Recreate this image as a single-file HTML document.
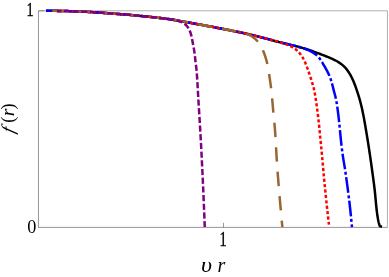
<!DOCTYPE html>
<html><head><meta charset="utf-8"><title>f(r) plot</title>
<style>
html,body{margin:0;padding:0;background:#fff;}
svg{display:block;will-change:transform;}
text{font-family:"Liberation Serif",serif;fill:#000;}
</style></head><body>
<svg width="389" height="277" viewBox="0 0 389 277">
<rect width="389" height="277" fill="#fff"/>
<!-- frame -->
<g fill="none">
<path d="M38.45,10.8 H387.45 V227.4" stroke="#a6a6a6" stroke-width="0.9"/>
<path d="M38.45,10.8 V227.4 H387.45" stroke="#727272" stroke-width="0.75"/>
<path d="M38.45,10.8 H44.5 M223.45,227.4 V222.8" stroke="#727272" stroke-width="0.75"/>
</g>
<g fill="none" stroke-width="2.5" stroke-linejoin="round">
<path d="M46.00,10.70 L47.57,10.72 L49.15,10.73 L50.72,10.75 L52.30,10.78 L53.87,10.80 L55.44,10.83 L57.02,10.86 L58.59,10.89 L60.17,10.92 L61.74,10.96 L63.31,10.99 L64.89,11.03 L66.46,11.07 L68.04,11.12 L69.61,11.16 L71.18,11.21 L72.76,11.27 L74.33,11.32 L75.90,11.38 L77.48,11.45 L79.05,11.51 L80.62,11.58 L82.19,11.65 L83.77,11.72 L85.34,11.80 L86.91,11.87 L88.48,11.95 L90.06,12.03 L91.63,12.12 L93.20,12.20 L94.77,12.29 L96.34,12.39 L97.91,12.49 L99.48,12.60 L101.05,12.71 L102.62,12.82 L104.19,12.93 L105.76,13.05 L107.33,13.17 L108.90,13.29 L110.47,13.41 L112.04,13.53 L113.61,13.64 L115.18,13.76 L116.75,13.88 L118.32,14.00 L119.89,14.11 L121.46,14.23 L123.03,14.35 L124.60,14.47 L126.17,14.59 L127.74,14.72 L129.31,14.85 L130.88,14.99 L132.45,15.13 L134.01,15.29 L135.58,15.44 L137.14,15.60 L138.71,15.77 L140.28,15.93 L141.84,16.09 L143.41,16.24 L144.98,16.40 L146.54,16.56 L148.11,16.72 L149.67,16.88 L151.24,17.04 L152.81,17.21 L154.37,17.37 L155.94,17.54 L157.50,17.72 L159.06,17.90 L160.63,18.08 L162.19,18.27 L163.75,18.46 L165.31,18.66 L166.88,18.87 L168.43,19.09 L169.99,19.32 L171.55,19.55 L173.10,19.81 L174.66,20.07 L176.21,20.33 L177.76,20.60 L179.31,20.88 L180.86,21.15 L182.41,21.42 L183.96,21.70 L185.51,21.97 L187.06,22.25 L188.61,22.53 L190.16,22.81 L191.71,23.09 L193.26,23.37 L194.80,23.65 L196.35,23.93 L197.90,24.22 L199.45,24.50 L201.00,24.78 L202.55,25.07 L204.09,25.36 L205.64,25.64 L207.19,25.93 L208.74,26.22 L210.28,26.51 L211.83,26.80 L213.38,27.09 L214.93,27.39 L216.47,27.68 L218.02,27.97 L219.56,28.27 L221.11,28.57 L222.66,28.86 L224.20,29.16 L225.75,29.46 L227.29,29.77 L228.84,30.07 L230.38,30.38 L231.93,30.68 L233.47,30.99 L235.01,31.30 L236.56,31.61 L238.10,31.93 L239.64,32.24 L241.18,32.57 L242.72,32.89 L244.26,33.23 L245.80,33.56 L247.33,33.91 L248.87,34.27 L250.40,34.63 L251.93,34.99 L253.46,35.37 L254.99,35.74 L256.52,36.12 L258.04,36.51 L259.57,36.90 L261.09,37.29 L262.62,37.68 L264.14,38.08 L265.66,38.49 L267.18,38.89 L268.70,39.30 L270.22,39.72 L271.74,40.13 L273.26,40.53 L274.78,40.94 L276.30,41.34 L277.83,41.74 L279.35,42.13 L280.88,42.51 L282.41,42.88 L283.94,43.25 L285.47,43.62 L287.00,43.98 L288.53,44.35 L290.06,44.72 L291.59,45.09 L293.12,45.47 L294.65,45.85 L296.18,46.24 L297.70,46.63 L299.22,47.03 L300.74,47.45 L302.25,47.88 L303.76,48.33 L305.27,48.80 L306.76,49.28 L308.26,49.77 L309.75,50.27 L311.24,50.78 L312.73,51.29 L314.22,51.81 L315.70,52.35 L317.18,52.89 L318.65,53.43 L320.13,53.99 L321.60,54.55 L323.07,55.12 L324.53,55.69 L326.00,56.27 L327.46,56.86 L328.91,57.46 L330.36,58.07 L331.80,58.70 L333.24,59.35 L334.66,60.03 L336.06,60.75 L337.43,61.52 L338.78,62.34 L340.09,63.21 L341.36,64.13 L342.59,65.11 L343.77,66.16 L344.89,67.27 L345.94,68.44 L346.93,69.66 L347.86,70.93 L348.74,72.23 L349.58,73.57 L350.37,74.93 L351.12,76.31 L351.83,77.72 L352.51,79.14 L353.15,80.57 L353.77,82.02 L354.36,83.48 L354.92,84.95 L355.46,86.43 L355.99,87.92 L356.50,89.40 L357.00,90.90 L357.50,92.39 L357.99,93.89 L358.46,95.39 L358.92,96.89 L359.37,98.40 L359.80,99.92 L360.21,101.44 L360.61,102.96 L361.00,104.48 L361.38,106.01 L361.74,107.54 L362.09,109.08 L362.42,110.62 L362.75,112.16 L363.07,113.70 L363.38,115.24 L363.68,116.79 L363.97,118.34 L364.25,119.88 L364.53,121.43 L364.80,122.98 L365.07,124.54 L365.33,126.09 L365.60,127.64 L365.86,129.19 L366.12,130.74 L366.38,132.30 L366.64,133.85 L366.89,135.40 L367.15,136.96 L367.40,138.51 L367.65,140.07 L367.90,141.62 L368.14,143.18 L368.39,144.73 L368.63,146.29 L368.87,147.84 L369.11,149.40 L369.34,150.95 L369.58,152.51 L369.81,154.07 L370.04,155.63 L370.26,157.18 L370.49,158.74 L370.71,160.30 L370.94,161.86 L371.16,163.42 L371.38,164.98 L371.59,166.54 L371.81,168.09 L372.02,169.65 L372.24,171.21 L372.45,172.77 L372.67,174.33 L372.88,175.89 L373.10,177.45 L373.31,179.01 L373.52,180.57 L373.72,182.13 L373.93,183.69 L374.12,185.26 L374.32,186.82 L374.50,188.38 L374.68,189.95 L374.86,191.51 L375.02,193.08 L375.18,194.64 L375.33,196.21 L375.47,197.78 L375.62,199.34 L375.76,200.91 L375.90,202.48 L376.05,204.05 L376.20,205.61 L376.36,207.18 L376.53,208.75 L376.71,210.31 L376.90,211.87 L377.10,213.43 L377.32,214.99 L377.56,216.55 L377.82,218.10 L378.10,219.65 L378.42,221.19 L378.78,222.72 L379.18,224.25 L379.61,225.76 L380.00,226.20 L380.80,226.40 L382.10,226.45" stroke="#000"/>
<path d="M46.00,10.70 L47.52,10.72 L49.03,10.73 L50.55,10.75 L52.07,10.77 L53.58,10.80 L55.10,10.82 L56.62,10.85 L58.14,10.88 L59.65,10.91 L61.17,10.95 L62.69,10.98 L64.20,11.02 L65.72,11.05 L67.24,11.09 L68.75,11.14 L70.27,11.18 L71.79,11.23 L73.30,11.29 L74.82,11.34 L76.33,11.40 L77.85,11.46 L79.37,11.53 L80.88,11.59 L82.40,11.66 L83.91,11.73 L85.43,11.80 L86.94,11.88 L88.46,11.95 L89.97,12.03 L91.49,12.11 L93.00,12.19 L94.52,12.28 L96.03,12.37 L97.55,12.47 L99.06,12.57 L100.57,12.67 L102.09,12.78 L103.60,12.89 L105.11,13.00 L106.63,13.11 L108.14,13.23 L109.65,13.34 L111.16,13.46 L112.68,13.57 L114.19,13.69 L115.70,13.80 L117.22,13.91 L118.73,14.03 L120.24,14.14 L121.75,14.25 L123.27,14.36 L124.78,14.48 L126.29,14.60 L127.80,14.72 L129.32,14.85 L130.83,14.98 L132.34,15.12 L133.85,15.27 L135.36,15.42 L136.87,15.58 L138.38,15.73 L139.88,15.89 L141.39,16.04 L142.90,16.19 L144.41,16.35 L145.92,16.50 L147.43,16.65 L148.94,16.81 L150.45,16.96 L151.96,17.12 L153.47,17.28 L154.98,17.44 L156.48,17.60 L157.99,17.77 L159.50,17.95 L161.01,18.13 L162.51,18.31 L164.02,18.50 L165.52,18.69 L167.03,18.89 L168.53,19.10 L170.03,19.32 L171.53,19.55 L173.03,19.79 L174.52,20.04 L176.02,20.30 L177.51,20.56 L179.01,20.82 L180.50,21.09 L182.00,21.35 L183.49,21.61 L184.98,21.88 L186.48,22.15 L187.97,22.41 L189.46,22.68 L190.96,22.95 L192.45,23.22 L193.94,23.49 L195.43,23.77 L196.93,24.04 L198.42,24.31 L199.91,24.58 L201.40,24.86 L202.90,25.13 L204.39,25.41 L205.88,25.69 L207.37,25.96 L208.86,26.24 L210.35,26.52 L211.84,26.80 L213.33,27.09 L214.82,27.37 L216.32,27.65 L217.81,27.93 L219.30,28.22 L220.79,28.50 L222.28,28.79 L223.77,29.08 L225.25,29.37 L226.74,29.66 L228.23,29.95 L229.72,30.25 L231.21,30.54 L232.70,30.84 L234.18,31.14 L235.67,31.43 L237.16,31.74 L238.65,32.04 L240.13,32.35 L241.62,32.66 L243.10,32.97 L244.58,33.30 L246.06,33.62 L247.54,33.96 L249.02,34.30 L250.50,34.65 L251.97,35.00 L253.45,35.36 L254.92,35.73 L256.39,36.09 L257.86,36.46 L259.33,36.84 L260.80,37.21 L262.27,37.59 L263.74,37.98 L265.21,38.36 L266.67,38.76 L268.14,39.15 L269.60,39.55 L271.07,39.94 L272.53,40.34 L274.00,40.73 L275.46,41.12 L276.93,41.51 L278.40,41.88 L279.87,42.26 L281.34,42.62 L282.82,42.98 L284.29,43.33 L285.77,43.69 L287.24,44.04 L288.72,44.39 L290.19,44.75 L291.67,45.10 L293.14,45.46 L294.62,45.81 L296.09,46.18 L297.56,46.56 L299.02,46.95 L300.48,47.37 L301.93,47.81 L303.38,48.28 L304.81,48.77 L306.24,49.30 L307.65,49.85 L309.04,50.45 L310.41,51.10 L311.76,51.80 L313.06,52.58 L314.32,53.42 L315.53,54.34 L316.69,55.32 L317.78,56.37 L318.81,57.48 L319.77,58.66 L320.66,59.89 L321.48,61.16 L322.27,62.46 L323.03,63.77 L323.78,65.09 L324.54,66.41 L325.29,67.72 L326.04,69.04 L326.78,70.37 L327.49,71.71 L328.17,73.07 L328.80,74.44 L329.40,75.84 L329.96,77.25 L330.48,78.67 L330.97,80.11 L331.44,81.55 L331.87,83.00 L332.27,84.47 L332.65,85.94 L333.01,87.41 L333.37,88.89 L333.74,90.36 L334.13,91.82 L334.53,93.29 L334.93,94.75 L335.32,96.22 L335.67,97.69 L335.98,99.18 L336.26,100.67 L336.53,102.16 L336.77,103.66 L337.01,105.16 L337.23,106.66 L337.45,108.16 L337.66,109.66 L337.86,111.17 L338.05,112.67 L338.24,114.18 L338.42,115.68 L338.59,117.19 L338.76,118.70 L338.93,120.20 L339.09,121.71 L339.25,123.22 L339.40,124.73 L339.55,126.24 L339.70,127.75 L339.85,129.26 L340.00,130.77 L340.15,132.28 L340.30,133.79 L340.45,135.30 L340.60,136.81 L340.75,138.32 L340.91,139.83 L341.06,141.34 L341.22,142.85 L341.39,144.35 L341.56,145.86 L341.73,147.37 L341.91,148.87 L342.10,150.38 L342.29,151.89 L342.49,153.39 L342.70,154.89 L342.92,156.39 L343.15,157.89 L343.39,159.39 L343.63,160.89 L343.89,162.38 L344.14,163.88 L344.40,165.37 L344.65,166.87 L344.89,168.37 L345.12,169.87 L345.34,171.37 L345.56,172.87 L345.77,174.37 L345.98,175.87 L346.19,177.38 L346.40,178.88 L346.61,180.38 L346.81,181.89 L347.02,183.39 L347.22,184.89 L347.42,186.40 L347.62,187.90 L347.81,189.41 L348.01,190.91 L348.20,192.42 L348.39,193.92 L348.58,195.43 L348.77,196.93 L348.95,198.44 L349.14,199.94 L349.32,201.45 L349.50,202.96 L349.67,204.46 L349.84,205.97 L350.01,207.48 L350.18,208.99 L350.34,210.49 L350.51,212.00 L350.66,213.51 L350.82,215.02 L350.97,216.53 L351.12,218.04 L351.27,219.55 L351.41,221.06 L351.55,222.57 L351.69,224.08 L351.82,225.59 L351.95,227.10" stroke="#0000ff" stroke-dasharray="15.7 2.6 3 2.43" stroke-dashoffset="0.06"/>
<path d="M55.00,10.86 L56.42,10.88 L57.85,10.90 L59.27,10.92 L60.70,10.95 L62.12,10.98 L63.55,11.00 L64.97,11.04 L66.40,11.07 L67.82,11.11 L69.24,11.15 L70.67,11.19 L72.09,11.24 L73.52,11.29 L74.94,11.34 L76.36,11.40 L77.79,11.46 L79.21,11.52 L80.63,11.58 L82.06,11.64 L83.48,11.71 L84.90,11.78 L86.33,11.85 L87.75,11.92 L89.17,11.99 L90.60,12.06 L92.02,12.14 L93.44,12.22 L94.86,12.30 L96.28,12.39 L97.71,12.48 L99.13,12.57 L100.55,12.67 L101.97,12.77 L103.39,12.87 L104.81,12.98 L106.23,13.08 L107.65,13.19 L109.07,13.30 L110.50,13.41 L111.92,13.52 L113.34,13.62 L114.76,13.73 L116.18,13.84 L117.60,13.94 L119.02,14.05 L120.44,14.15 L121.86,14.26 L123.28,14.36 L124.70,14.47 L126.12,14.58 L127.54,14.70 L128.96,14.82 L130.38,14.94 L131.80,15.07 L133.22,15.21 L134.64,15.35 L136.05,15.49 L137.47,15.64 L138.89,15.78 L140.31,15.93 L141.72,16.07 L143.14,16.22 L144.56,16.36 L145.98,16.50 L147.39,16.65 L148.81,16.79 L150.23,16.94 L151.65,17.08 L153.06,17.23 L154.48,17.39 L155.90,17.54 L157.31,17.70 L158.73,17.86 L160.14,18.02 L161.56,18.19 L162.97,18.36 L164.38,18.54 L165.80,18.73 L167.21,18.92 L168.62,19.11 L170.03,19.32 L171.44,19.54 L172.85,19.76 L174.25,20.00 L175.65,20.24 L177.06,20.48 L178.46,20.73 L179.86,20.98 L181.27,21.22 L182.67,21.47 L184.07,21.72 L185.48,21.97 L186.88,22.22 L188.28,22.47 L189.68,22.72 L191.09,22.97 L192.49,23.23 L193.89,23.48 L195.29,23.74 L196.69,23.99 L198.09,24.25 L199.50,24.51 L200.90,24.77 L202.30,25.02 L203.70,25.28 L205.10,25.54 L206.50,25.80 L207.90,26.06 L209.30,26.33 L210.70,26.59 L212.10,26.85 L213.50,27.12 L214.90,27.38 L216.30,27.65 L217.70,27.91 L219.10,28.18 L220.50,28.45 L221.90,28.72 L223.30,28.99 L224.70,29.26 L226.09,29.53 L227.49,29.81 L228.89,30.08 L230.29,30.36 L231.69,30.64 L233.08,30.92 L234.48,31.19 L235.88,31.48 L237.27,31.76 L238.67,32.04 L240.06,32.33 L241.46,32.62 L242.85,32.92 L244.24,33.22 L245.64,33.53 L247.03,33.84 L248.41,34.16 L249.80,34.49 L251.19,34.82 L252.57,35.15 L253.96,35.49 L255.34,35.83 L256.72,36.18 L258.10,36.52 L259.49,36.87 L260.87,37.22 L262.25,37.56 L263.63,37.91 L265.01,38.26 L266.39,38.61 L267.77,38.96 L269.15,39.31 L270.53,39.67 L271.91,40.03 L273.29,40.40 L274.66,40.78 L276.04,41.16 L277.41,41.55 L278.77,41.95 L280.13,42.37 L281.49,42.80 L282.85,43.24 L284.20,43.70 L285.54,44.17 L286.88,44.67 L288.20,45.18 L289.52,45.73 L290.81,46.32 L292.08,46.97 L293.32,47.69 L294.51,48.46 L295.65,49.31 L296.75,50.22 L297.80,51.19 L298.79,52.21 L299.73,53.28 L300.61,54.40 L301.43,55.56 L302.20,56.76 L302.92,57.99 L303.60,59.25 L304.24,60.52 L304.84,61.81 L305.42,63.11 L305.96,64.43 L306.48,65.76 L306.98,67.09 L307.46,68.43 L307.94,69.77 L308.41,71.12 L308.87,72.47 L309.33,73.81 L309.78,75.17 L310.23,76.52 L310.66,77.88 L311.10,79.23 L311.52,80.59 L311.95,81.95 L312.37,83.31 L312.78,84.68 L313.18,86.04 L313.55,87.42 L313.89,88.80 L314.19,90.20 L314.47,91.59 L314.74,92.99 L314.99,94.40 L315.23,95.80 L315.46,97.21 L315.69,98.61 L315.91,100.02 L316.12,101.43 L316.33,102.84 L316.53,104.25 L316.73,105.66 L316.93,107.07 L317.11,108.48 L317.30,109.90 L317.48,111.31 L317.65,112.72 L317.82,114.14 L317.99,115.55 L318.15,116.97 L318.32,118.38 L318.47,119.80 L318.63,121.22 L318.78,122.63 L318.93,124.05 L319.08,125.47 L319.22,126.88 L319.37,128.30 L319.51,129.72 L319.65,131.14 L319.79,132.55 L319.93,133.97 L320.07,135.39 L320.20,136.81 L320.34,138.23 L320.48,139.64 L320.62,141.06 L320.76,142.48 L320.89,143.90 L321.03,145.32 L321.17,146.73 L321.31,148.15 L321.46,149.57 L321.60,150.99 L321.73,152.40 L321.87,153.82 L322.00,155.24 L322.14,156.66 L322.26,158.08 L322.39,159.50 L322.51,160.92 L322.64,162.34 L322.76,163.76 L322.88,165.18 L323.00,166.60 L323.13,168.01 L323.25,169.43 L323.37,170.85 L323.49,172.27 L323.62,173.69 L323.75,175.11 L323.88,176.53 L324.01,177.95 L324.14,179.37 L324.28,180.79 L324.42,182.20 L324.55,183.62 L324.69,185.04 L324.84,186.46 L324.98,187.87 L325.12,189.29 L325.26,190.71 L325.41,192.13 L325.55,193.54 L325.70,194.96 L325.84,196.38 L325.99,197.80 L326.14,199.21 L326.29,200.63 L326.44,202.05 L326.59,203.46 L326.74,204.88 L326.89,206.30 L327.05,207.71 L327.20,209.13 L327.35,210.55 L327.51,211.96 L327.67,213.38 L327.82,214.79 L327.98,216.21 L328.14,217.63 L328.30,219.04 L328.46,220.46 L328.63,221.87 L328.79,223.29 L328.95,224.70" stroke="#ff0000" stroke-dasharray="3.15 2.27" stroke-dashoffset="5.10"/>
<path d="M52.30,10.81 L53.63,10.83 L54.96,10.85 L56.29,10.87 L57.63,10.89 L58.96,10.91 L60.29,10.93 L61.62,10.96 L62.95,10.99 L64.28,11.02 L65.61,11.05 L66.95,11.09 L68.28,11.12 L69.61,11.16 L70.94,11.20 L72.27,11.25 L73.60,11.29 L74.93,11.34 L76.26,11.40 L77.59,11.45 L78.92,11.50 L80.25,11.56 L81.58,11.62 L82.91,11.68 L84.24,11.75 L85.57,11.81 L86.90,11.87 L88.23,11.94 L89.56,12.01 L90.89,12.08 L92.22,12.15 L93.55,12.22 L94.88,12.30 L96.21,12.38 L97.54,12.47 L98.87,12.56 L100.20,12.65 L101.53,12.74 L102.86,12.83 L104.18,12.93 L105.51,13.03 L106.84,13.13 L108.17,13.23 L109.50,13.33 L110.82,13.43 L112.15,13.53 L113.48,13.63 L114.81,13.73 L116.13,13.83 L117.46,13.93 L118.79,14.03 L120.12,14.13 L121.45,14.23 L122.77,14.33 L124.10,14.43 L125.43,14.53 L126.76,14.64 L128.08,14.74 L129.41,14.86 L130.74,14.98 L132.06,15.10 L133.39,15.23 L134.71,15.36 L136.04,15.49 L137.36,15.63 L138.69,15.76 L140.01,15.90 L141.34,16.03 L142.66,16.17 L143.99,16.30 L145.31,16.44 L146.64,16.57 L147.96,16.71 L149.29,16.84 L150.61,16.98 L151.94,17.12 L153.26,17.25 L154.59,17.40 L155.91,17.54 L157.23,17.69 L158.56,17.84 L159.88,17.99 L161.20,18.15 L162.52,18.31 L163.84,18.47 L165.17,18.64 L166.49,18.82 L167.80,19.00 L169.12,19.19 L170.44,19.38 L171.76,19.59 L173.07,19.80 L174.38,20.02 L175.70,20.24 L177.01,20.47 L178.32,20.70 L179.63,20.93 L180.94,21.17 L182.25,21.40 L183.57,21.63 L184.88,21.86 L186.19,22.09 L187.50,22.33 L188.81,22.56 L190.12,22.80 L191.43,23.04 L192.74,23.27 L194.05,23.51 L195.36,23.75 L196.67,23.99 L197.98,24.23 L199.29,24.47 L200.60,24.71 L201.91,24.95 L203.22,25.19 L204.53,25.44 L205.84,25.68 L207.15,25.92 L208.46,26.17 L209.77,26.41 L211.07,26.66 L212.38,26.91 L213.69,27.15 L215.00,27.40 L216.31,27.65 L217.62,27.90 L218.92,28.15 L220.23,28.40 L221.54,28.65 L222.85,28.90 L224.16,29.15 L225.46,29.41 L226.77,29.66 L228.08,29.92 L229.38,30.17 L230.69,30.43 L232.00,30.68 L233.31,30.92 L234.62,31.16 L235.93,31.41 L237.24,31.65 L238.54,31.91 L239.85,32.17 L241.15,32.45 L242.45,32.74 L243.74,33.06 L245.03,33.40 L246.30,33.79 L247.56,34.23 L248.79,34.74 L249.99,35.32 L251.15,35.96 L252.28,36.67 L253.37,37.44 L254.42,38.25 L255.44,39.12 L256.40,40.03 L257.32,41.00 L258.19,42.01 L258.99,43.07 L259.74,44.17 L260.43,45.31 L261.09,46.47 L261.70,47.65 L262.28,48.85 L262.83,50.06 L263.35,51.29 L263.84,52.52 L264.32,53.77 L264.77,55.02 L265.20,56.28 L265.61,57.55 L265.99,58.82 L266.36,60.10 L266.70,61.39 L267.02,62.68 L267.32,63.98 L267.59,65.29 L267.84,66.59 L268.07,67.91 L268.29,69.22 L268.51,70.53 L268.71,71.85 L268.92,73.16 L269.13,74.48 L269.33,75.80 L269.53,77.11 L269.73,78.43 L269.93,79.75 L270.12,81.06 L270.31,82.38 L270.49,83.70 L270.67,85.02 L270.85,86.34 L271.01,87.66 L271.17,88.98 L271.32,90.31 L271.47,91.63 L271.61,92.95 L271.74,94.28 L271.87,95.61 L272.00,96.93 L272.12,98.26 L272.24,99.58 L272.35,100.91 L272.47,102.24 L272.58,103.56 L272.69,104.89 L272.81,106.22 L272.92,107.54 L273.03,108.87 L273.15,110.20 L273.27,111.52 L273.39,112.85 L273.52,114.18 L273.64,115.50 L273.77,116.83 L273.90,118.15 L274.04,119.48 L274.17,120.80 L274.30,122.13 L274.42,123.45 L274.55,124.78 L274.67,126.10 L274.78,127.43 L274.89,128.76 L275.00,130.09 L275.10,131.41 L275.19,132.74 L275.28,134.07 L275.37,135.40 L275.45,136.73 L275.53,138.06 L275.61,139.39 L275.69,140.72 L275.77,142.05 L275.84,143.38 L275.92,144.71 L275.99,146.04 L276.06,147.36 L276.13,148.69 L276.21,150.02 L276.28,151.35 L276.35,152.68 L276.43,154.01 L276.50,155.34 L276.58,156.67 L276.66,158.00 L276.75,159.33 L276.83,160.66 L276.92,161.99 L277.00,163.32 L277.10,164.65 L277.19,165.97 L277.28,167.30 L277.37,168.63 L277.47,169.96 L277.57,171.29 L277.67,172.62 L277.76,173.94 L277.86,175.27 L277.96,176.60 L278.07,177.93 L278.17,179.25 L278.27,180.58 L278.38,181.91 L278.48,183.24 L278.59,184.56 L278.69,185.89 L278.80,187.22 L278.91,188.55 L279.02,189.87 L279.13,191.20 L279.24,192.53 L279.35,193.85 L279.47,195.18 L279.58,196.51 L279.70,197.83 L279.82,199.16 L279.93,200.49 L280.05,201.81 L280.17,203.14 L280.29,204.47 L280.41,205.79 L280.52,207.12 L280.64,208.45 L280.76,209.77 L280.88,211.10 L281.00,212.43 L281.12,213.75 L281.24,215.08 L281.36,216.40 L281.49,217.73 L281.61,219.06 L281.73,220.38 L281.85,221.71 L281.98,223.03 L282.10,224.36 L282.23,225.69 L282.35,227.01" stroke="#996633" stroke-dasharray="14.4 10.12" stroke-dashoffset="0.64"/>
<path d="M57.00,10.90 L58.12,10.91 L59.24,10.93 L60.36,10.95 L61.48,10.97 L62.59,10.99 L63.71,11.01 L64.83,11.03 L65.95,11.06 L67.07,11.09 L68.19,11.12 L69.31,11.15 L70.43,11.18 L71.54,11.22 L72.66,11.26 L73.78,11.30 L74.90,11.34 L76.02,11.38 L77.14,11.43 L78.25,11.47 L79.37,11.52 L80.49,11.57 L81.61,11.62 L82.73,11.67 L83.84,11.73 L84.96,11.78 L86.08,11.83 L87.20,11.89 L88.31,11.94 L89.43,12.00 L90.55,12.06 L91.67,12.12 L92.79,12.18 L93.90,12.24 L95.02,12.31 L96.14,12.38 L97.25,12.45 L98.37,12.52 L99.49,12.60 L100.60,12.67 L101.72,12.75 L102.84,12.83 L103.95,12.91 L105.07,13.00 L106.18,13.08 L107.30,13.16 L108.42,13.25 L109.53,13.33 L110.65,13.42 L111.76,13.50 L112.88,13.59 L113.99,13.67 L115.11,13.76 L116.23,13.84 L117.34,13.92 L118.46,14.01 L119.57,14.09 L120.69,14.17 L121.81,14.25 L122.92,14.34 L124.04,14.42 L125.15,14.51 L126.27,14.60 L127.39,14.69 L128.50,14.78 L129.62,14.88 L130.73,14.98 L131.84,15.08 L132.96,15.18 L134.07,15.29 L135.19,15.40 L136.30,15.52 L137.41,15.63 L138.53,15.75 L139.64,15.86 L140.75,15.97 L141.87,16.09 L142.98,16.20 L144.09,16.31 L145.21,16.43 L146.32,16.54 L147.43,16.65 L148.55,16.76 L149.66,16.88 L150.77,16.99 L151.89,17.11 L153.00,17.23 L154.11,17.35 L155.22,17.47 L156.34,17.59 L157.45,17.71 L158.56,17.84 L159.67,17.97 L160.78,18.10 L161.89,18.23 L163.01,18.37 L164.12,18.51 L165.23,18.65 L166.34,18.80 L167.44,18.95 L168.55,19.10 L169.66,19.26 L170.77,19.42 L171.87,19.60 L172.98,19.78 L174.08,19.97 L175.18,20.19 L176.27,20.42 L177.36,20.69 L178.44,20.98 L179.51,21.32 L180.56,21.70 L181.59,22.13 L182.60,22.62 L183.57,23.17 L184.49,23.80 L185.37,24.50 L186.18,25.27 L186.94,26.09 L187.63,26.97 L188.26,27.90 L188.82,28.86 L189.33,29.86 L189.79,30.88 L190.21,31.92 L190.57,32.98 L190.90,34.05 L191.19,35.13 L191.46,36.22 L191.70,37.31 L191.92,38.40 L192.14,39.50 L192.35,40.60 L192.56,41.70 L192.76,42.80 L192.97,43.90 L193.18,45.00 L193.38,46.10 L193.59,47.20 L193.79,48.30 L193.98,49.40 L194.17,50.51 L194.34,51.61 L194.51,52.72 L194.66,53.83 L194.80,54.94 L194.92,56.05 L195.04,57.16 L195.15,58.28 L195.27,59.39 L195.39,60.50 L195.52,61.61 L195.66,62.72 L195.80,63.83 L195.95,64.94 L196.09,66.05 L196.22,67.17 L196.35,68.28 L196.46,69.39 L196.56,70.51 L196.66,71.62 L196.75,72.74 L196.84,73.85 L196.92,74.97 L197.00,76.08 L197.08,77.20 L197.15,78.32 L197.22,79.43 L197.29,80.55 L197.36,81.67 L197.43,82.78 L197.49,83.90 L197.56,85.02 L197.62,86.14 L197.68,87.25 L197.74,88.37 L197.80,89.49 L197.87,90.61 L197.93,91.72 L197.99,92.84 L198.05,93.96 L198.11,95.08 L198.18,96.19 L198.24,97.31 L198.31,98.43 L198.37,99.54 L198.44,100.66 L198.51,101.78 L198.58,102.90 L198.65,104.01 L198.72,105.13 L198.79,106.25 L198.86,107.36 L198.93,108.48 L199.00,109.60 L199.06,110.71 L199.13,111.83 L199.20,112.95 L199.27,114.06 L199.34,115.18 L199.41,116.30 L199.48,117.42 L199.55,118.53 L199.61,119.65 L199.68,120.77 L199.75,121.88 L199.82,123.00 L199.88,124.12 L199.95,125.24 L200.02,126.35 L200.08,127.47 L200.15,128.59 L200.22,129.70 L200.28,130.82 L200.35,131.94 L200.41,133.06 L200.47,134.17 L200.54,135.29 L200.60,136.41 L200.66,137.52 L200.72,138.64 L200.79,139.76 L200.85,140.88 L200.91,141.99 L200.97,143.11 L201.03,144.23 L201.09,145.35 L201.15,146.46 L201.21,147.58 L201.27,148.70 L201.32,149.82 L201.38,150.93 L201.44,152.05 L201.50,153.17 L201.56,154.29 L201.61,155.40 L201.67,156.52 L201.73,157.64 L201.78,158.76 L201.84,159.88 L201.89,160.99 L201.95,162.11 L202.00,163.23 L202.06,164.35 L202.11,165.46 L202.17,166.58 L202.22,167.70 L202.28,168.82 L202.33,169.94 L202.38,171.05 L202.44,172.17 L202.49,173.29 L202.54,174.41 L202.59,175.52 L202.65,176.64 L202.70,177.76 L202.75,178.88 L202.80,180.00 L202.85,181.11 L202.90,182.23 L202.95,183.35 L203.00,184.47 L203.05,185.59 L203.10,186.70 L203.15,187.82 L203.20,188.94 L203.25,190.06 L203.30,191.18 L203.35,192.29 L203.40,193.41 L203.44,194.53 L203.49,195.65 L203.54,196.77 L203.59,197.88 L203.64,199.00 L203.68,200.12 L203.73,201.24 L203.78,202.36 L203.82,203.47 L203.87,204.59 L203.92,205.71 L203.96,206.83 L204.01,207.95 L204.05,209.07 L204.10,210.18 L204.14,211.30 L204.19,212.42 L204.23,213.54 L204.28,214.66 L204.32,215.77 L204.37,216.89 L204.41,218.01 L204.45,219.13 L204.50,220.25 L204.54,221.37 L204.58,222.48 L204.62,223.60 L204.66,224.72 L204.71,225.84 L204.75,226.96" stroke="#800080" stroke-dasharray="6.2 2.5" stroke-dashoffset="1.86"/>
</g>
<text transform="translate(30.0,15.5) scale(0.72,1)" font-size="19.8" text-anchor="middle" stroke="#000" stroke-width="0.35">1</text>
<text x="31.8" y="232.9" font-size="18.2" text-anchor="middle">0</text>
<text transform="translate(223.05,245.6) scale(0.72,1)" font-size="20" text-anchor="middle" stroke="#000" stroke-width="0.35">1</text>
<text transform="translate(206.4,272.4) scale(1.2,1)" font-size="20" text-anchor="middle" font-style="italic">υ</text>
<text x="221.5" y="272.4" font-size="20" text-anchor="middle" font-style="italic">r</text>
<g font-size="19.8">
<text transform="translate(14.4,131.3) rotate(-90) skewX(-14) scale(1.08,1)" font-size="18" text-anchor="middle" font-style="italic">f</text>
<text transform="translate(13.5,119.75) rotate(-90)" font-size="18.2" text-anchor="middle">(</text>
<text transform="translate(13.8,112.5) rotate(-90)" text-anchor="middle" font-style="italic">r</text>
<text transform="translate(13.5,106.4) rotate(-90)" font-size="18.2" text-anchor="middle">)</text>
</g>
</svg>
</body></html>
